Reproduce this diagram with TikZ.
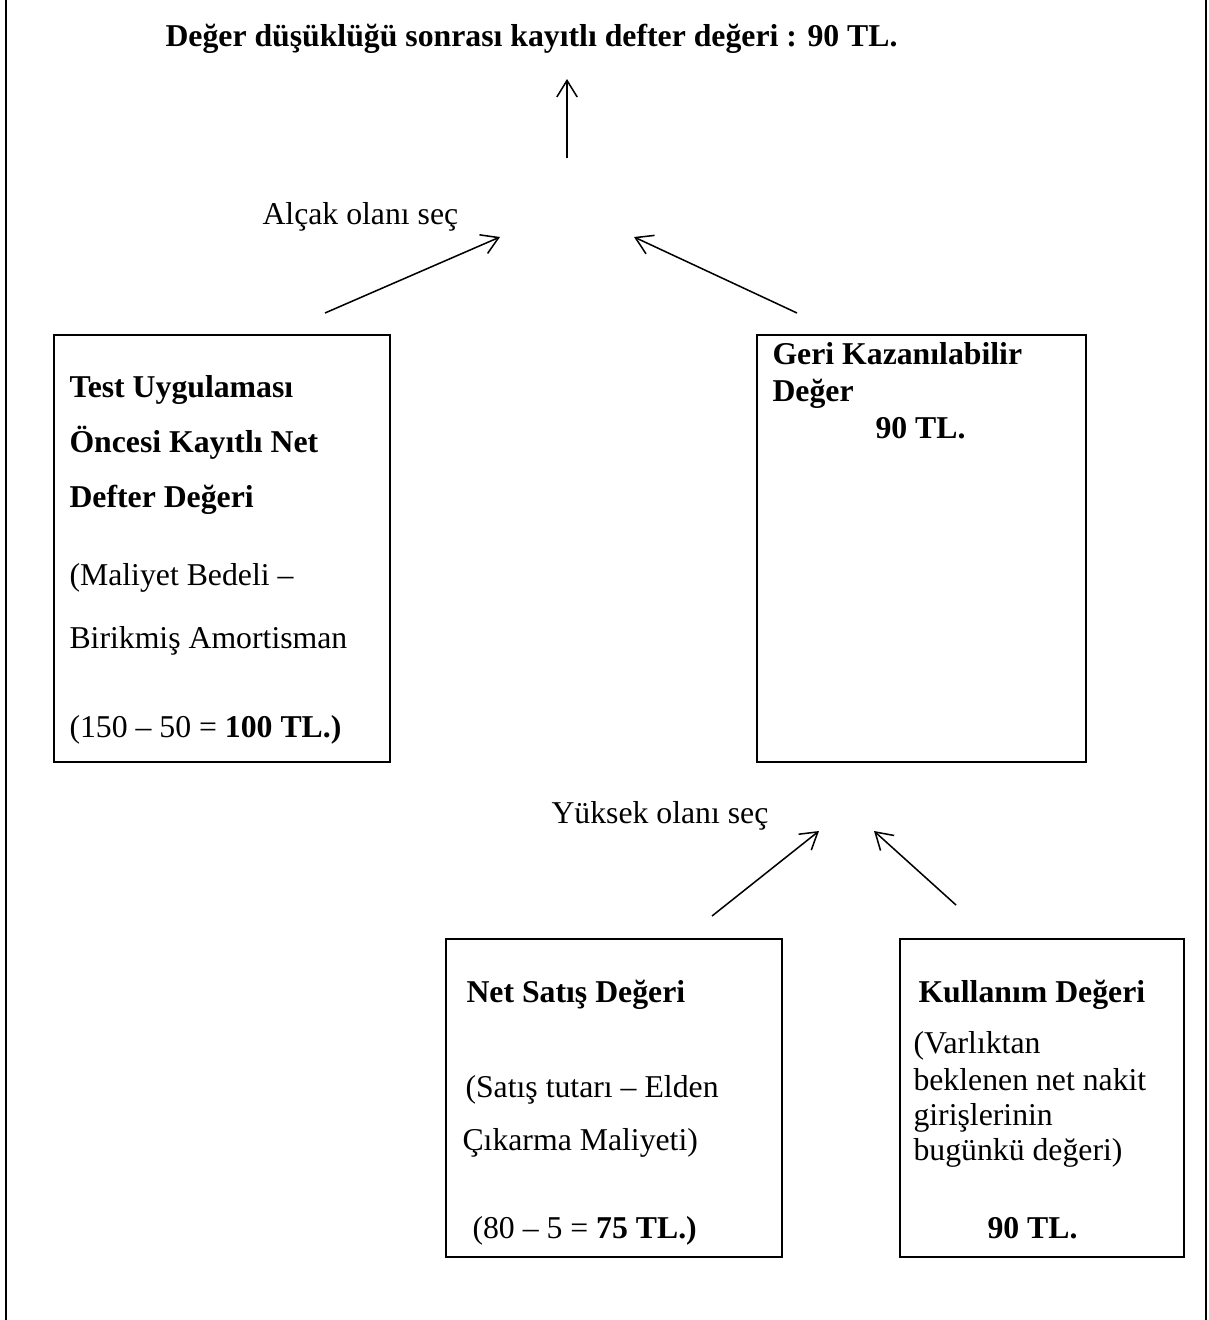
\documentclass[tikz,border=0pt]{standalone}
\usepackage{fontspec}
\setmainfont{Liberation Serif}
\usetikzlibrary{arrows.meta}
\begin{document}
\begin{tikzpicture}[x=0.3937pt,y=-0.3937pt,
  box/.style={draw,line width=1pt,inner sep=0pt},
  txt/.style={anchor=base west,inner sep=0pt,font=\fontsize{12.5}{14.4}\selectfont},
  btxt/.style={anchor=base west,inner sep=0pt,font=\fontsize{12.5}{14.4}\selectfont\bfseries},
  arr/.style={line width=0.6pt,-{Straight Barb[length=6.5pt,width=8pt]}},
  frame/.style={line width=1pt}]
\useasboundingbox (0,0) rectangle (1209,1320);
% outer frame (left and right sides)
\draw[frame] (6,0) -- (6,1320);
\draw[frame] (1206,0) -- (1206,1320);

% boxes
\node[box,minimum width=132.3pt,minimum height=168.1pt] (bv) at (222,548.5) {};
\node[box,minimum width=129.5pt,minimum height=168.1pt] (gk) at (921.5,548.5) {};
\node[box,minimum width=132.3pt,minimum height=125.2pt] (ns) at (614,1098) {};
\node[box,minimum width=111.8pt,minimum height=125.2pt] (kd) at (1042,1098) {};

% title and labels
\node[btxt] (title) at (165,47) {Değer düşüklüğü sonrası kayıtlı defter değeri : 90 TL.};
\node[txt] (alcak) at (262,225) {Alçak olanı seç};
\node[txt] (yuksek) at (551,823) {Yüksek olanı seç};

% left box text
\node[btxt] (bv1) at (69,397) {Test Uygulaması};
\node[btxt] (bv2) at (69,452) {Öncesi Kayıtlı Net};
\node[btxt] (bv3) at (69,507) {Defter Değeri};
\node[txt] (bv4) at (69,585) {(Maliyet Bedeli –};
\node[txt] (bv5) at (69,648) {Birikmiş Amortisman};
\node[txt] (bv6) at (69,737) {(150 – 50 = \textbf{100 TL.)}};

% right box text
\node[btxt] (gk1) at (772,364) {Geri Kazanılabilir};
\node[btxt] (gk2) at (772,401) {Değer};
\node[btxt] (gk3) at (875,438) {90 TL.};

% net satis text
\node[btxt] (ns1) at (466,1002) {Net Satış Değeri};
\node[txt] (ns2) at (465,1097) {(Satış tutarı – Elden};
\node[txt] (ns3) at (462,1150) {Çıkarma Maliyeti)};
\node[txt] (ns4) at (472,1238) {(80 – 5 = \textbf{75 TL.)}};

% kullanim text
\node[btxt] (kd1) at (918,1002) {Kullanım Değeri};
\node[txt] (kd2) at (913,1053) {(Varlıktan};
\node[txt] (kd3) at (913,1090) {beklenen net nakit};
\node[txt] (kd4) at (913,1125) {girişlerinin};
\node[txt] (kd5) at (913,1160) {bugünkü değeri)};
\node[btxt] (kd6) at (987,1238) {90 TL.};

% arrow end points
\coordinate (upS) at (567,158);
\coordinate (upE) at (567,79);
\coordinate (lS) at (325,313);
\coordinate (lE) at (500,237);
\coordinate (rS) at (797,313);
\coordinate (rE) at (634,237);
\coordinate (llS) at (712,916);
\coordinate (llE) at (819,831);
\coordinate (lrS) at (956,905);
\coordinate (lrE) at (874,831);

\draw[arr] (upS) -- (upE);
\draw[arr] (lS) -- (lE);
\draw[arr] (rS) -- (rE);
\draw[arr] (llS) -- (llE);
\draw[arr] (lrS) -- (lrE);
\end{tikzpicture}
\end{document}
